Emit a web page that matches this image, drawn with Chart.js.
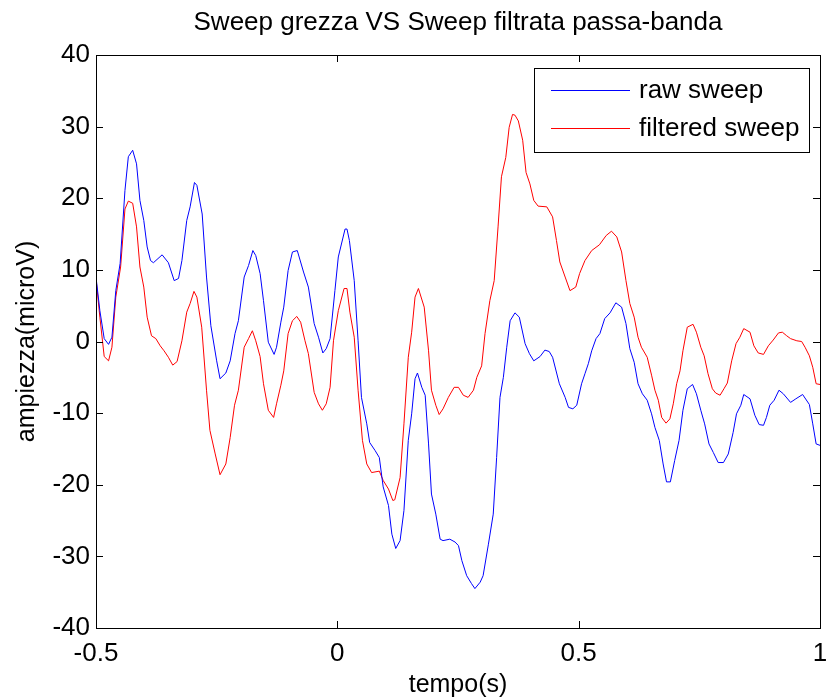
<!DOCTYPE html>
<html>
<head>
<meta charset="utf-8">
<script src="https://cdn.jsdelivr.net/npm/chart.js@4.4.1/dist/chart.umd.min.js"></script>
<style>
  html, body { margin: 0; padding: 0; background: #fff; }
  #wrap { width: 826px; height: 698px; }
</style>
</head>
<body>
<div id="wrap"><canvas id="sweep-chart"></canvas></div>
<script>
// raw sweep (blue)
var rawT = [-0.5,-0.492,-0.483,-0.474,-0.467,-0.459,-0.45,-0.44,-0.433,-0.424,-0.416,-0.409,-0.401,-0.394,-0.387,-0.381,-0.363,-0.35,-0.338,-0.329,-0.322,-0.312,-0.305,-0.296,-0.291,-0.28,-0.271,-0.262,-0.25,-0.243,-0.231,-0.222,-0.212,-0.205,-0.193,-0.184,-0.175,-0.169,-0.16,-0.153,-0.143,-0.131,-0.126,-0.117,-0.111,-0.102,-0.093,-0.083,-0.07,-0.06,-0.048,-0.039,-0.03,-0.023,-0.015,-0.005,0.002,0.016,0.02,0.025,0.035,0.043,0.05,0.061,0.067,0.078,0.087,0.095,0.106,0.113,0.121,0.13,0.138,0.147,0.154,0.161,0.166,0.175,0.182,0.189,0.195,0.204,0.213,0.219,0.233,0.244,0.251,0.258,0.268,0.278,0.285,0.296,0.302,0.313,0.323,0.33,0.337,0.344,0.351,0.358,0.368,0.377,0.389,0.398,0.407,0.42,0.43,0.439,0.446,0.46,0.472,0.479,0.488,0.496,0.506,0.513,0.52,0.527,0.536,0.544,0.554,0.565,0.577,0.589,0.598,0.606,0.615,0.623,0.632,0.642,0.651,0.658,0.667,0.675,0.682,0.69,0.699,0.708,0.716,0.725,0.736,0.744,0.753,0.761,0.77,0.779,0.789,0.8,0.81,0.82,0.827,0.836,0.842,0.855,0.865,0.874,0.883,0.889,0.896,0.905,0.915,0.924,0.939,0.95,0.964,0.978,0.985,0.992,1.0];
var rawV = [9.0,4.3,0.4,-0.4,0.6,7.1,10.9,21.1,25.8,26.7,24.8,19.7,16.9,13.2,11.3,11.0,12.1,11.0,8.5,8.8,11.3,16.9,18.8,22.2,21.8,17.8,9.0,2.2,-2.7,-5.2,-4.4,-2.7,1.1,2.9,9.0,10.6,12.7,12.0,9.5,5.7,-0.1,-1.8,-0.8,2.7,4.8,9.9,12.5,12.7,9.7,7.6,2.5,0.6,-1.6,-1.0,0.4,7.1,11.8,15.7,15.7,14.1,8.5,0.1,-7.8,-11.5,-14.1,-15.2,-16.2,-20.3,-22.9,-26.9,-28.9,-27.8,-23.6,-13.8,-10.1,-5.2,-4.4,-6.4,-7.5,-14.3,-21.3,-24.1,-27.6,-27.8,-27.6,-28.0,-28.5,-30.6,-32.7,-33.8,-34.5,-33.6,-32.7,-28.3,-24.1,-16.2,-7.8,-5.0,-0.8,2.9,4.0,3.4,-0.3,-1.7,-2.7,-2.1,-1.2,-1.4,-2.2,-5.9,-7.8,-9.2,-9.4,-8.9,-5.9,-4.5,-3.1,-1.3,0.4,1.1,3.2,4.0,5.4,4.8,2.5,-1.0,-2.9,-5.9,-7.3,-8.2,-10.1,-12.0,-13.8,-17.1,-19.6,-19.6,-16.6,-13.8,-9.6,-6.6,-6.0,-7.3,-9.6,-11.5,-14.3,-15.5,-16.9,-16.9,-15.7,-12.7,-10.1,-8.9,-7.4,-8.0,-10.3,-11.6,-11.7,-10.6,-8.9,-8.2,-6.8,-7.3,-8.5,-8.0,-7.4,-8.8,-11.5,-14.3,-14.5];

// filtered sweep (red)
var filtT = [-0.5,-0.492,-0.483,-0.474,-0.467,-0.459,-0.449,-0.44,-0.433,-0.424,-0.416,-0.409,-0.401,-0.394,-0.385,-0.376,-0.367,-0.359,-0.35,-0.341,-0.332,-0.322,-0.312,-0.305,-0.297,-0.291,-0.281,-0.271,-0.264,-0.253,-0.243,-0.231,-0.222,-0.213,-0.205,-0.193,-0.184,-0.176,-0.169,-0.16,-0.153,-0.143,-0.132,-0.126,-0.117,-0.111,-0.102,-0.093,-0.084,-0.076,-0.067,-0.06,-0.048,-0.039,-0.031,-0.023,-0.015,-0.008,0.002,0.014,0.02,0.026,0.035,0.043,0.052,0.061,0.071,0.087,0.095,0.106,0.115,0.119,0.13,0.138,0.147,0.154,0.161,0.168,0.18,0.189,0.195,0.204,0.211,0.219,0.23,0.242,0.251,0.261,0.271,0.282,0.289,0.299,0.306,0.316,0.325,0.333,0.34,0.349,0.356,0.363,0.368,0.375,0.384,0.391,0.399,0.407,0.416,0.434,0.446,0.454,0.461,0.472,0.482,0.494,0.502,0.513,0.527,0.543,0.557,0.568,0.579,0.589,0.598,0.606,0.615,0.623,0.63,0.642,0.651,0.658,0.665,0.672,0.681,0.689,0.696,0.703,0.71,0.716,0.725,0.737,0.744,0.753,0.76,0.768,0.777,0.784,0.793,0.801,0.808,0.817,0.826,0.834,0.842,0.855,0.863,0.872,0.883,0.893,0.903,0.914,0.922,0.931,0.939,0.952,0.962,0.969,0.978,0.985,0.992,1.0];
var filtV = [8.8,3.4,-2.1,-2.7,-0.8,6.2,10.4,18.5,19.6,19.3,16.0,10.4,7.6,3.4,0.8,0.4,-0.6,-1.3,-2.2,-3.3,-2.8,0.1,4.1,5.3,7.0,6.2,2.0,-6.8,-12.4,-15.7,-18.6,-17.1,-13.4,-8.9,-6.8,-0.8,0.4,1.5,0.1,-2.1,-5.9,-9.6,-10.6,-8.7,-6.1,-4.1,1.1,2.9,3.5,2.7,0.1,-1.7,-7.1,-8.7,-9.6,-8.7,-6.4,0.1,4.3,7.4,7.4,4.1,0.6,-6.8,-13.8,-17.1,-18.3,-18.1,-19.4,-20.6,-22.2,-22.1,-19.0,-11.5,-2.2,1.3,6.2,7.4,4.8,-1.3,-6.8,-8.9,-10.2,-9.4,-7.8,-6.4,-6.4,-7.5,-7.8,-6.8,-5.0,-3.4,1.1,5.7,8.5,16.0,23.0,25.7,29.9,31.7,31.6,30.8,28.1,23.6,22.0,19.7,18.9,18.8,17.4,14.1,11.1,9.0,7.1,7.6,9.5,11.3,12.7,13.5,14.8,15.4,14.6,12.5,8.5,5.3,3.4,0.6,-0.8,-2.2,-4.7,-6.8,-8.2,-10.6,-11.4,-10.8,-8.7,-5.9,-4.1,-1.3,2.0,2.4,1.3,-0.8,-2.0,-4.5,-6.6,-7.2,-7.5,-6.6,-5.8,-2.7,-0.3,0.6,1.8,1.3,-0.6,-1.6,-1.8,-0.6,0.2,1.2,1.3,0.8,0.4,0.1,0.0,-0.8,-2.0,-3.6,-5.9,-6.0];

var xTicks = [-0.5, 0, 0.5, 1];
var yTicks = [-40, -30, -20, -10, 0, 10, 20, 30, 40];

function pairs(t, v) {
  return t.map(function (x, i) { return { x: x, y: v[i] }; });
}

// matlab style frame, inward ticks, title and legend box
var matlabBox = {
  id: 'matlabBox',
  afterDraw: function (chart) {
    var ctx = chart.ctx, a = chart.chartArea;
    var xs = chart.scales.x, ys = chart.scales.y;
    ctx.save();
    ctx.strokeStyle = '#000';
    ctx.lineWidth = 1;
    ctx.strokeRect(Math.round(a.left) + 0.5, Math.round(a.top) + 0.5,
      Math.round(a.right - a.left), Math.round(a.bottom - a.top));
    ctx.beginPath();
    xTicks.forEach(function (v) {
      var px = Math.round(xs.getPixelForValue(v)) + 0.5;
      ctx.moveTo(px, a.bottom); ctx.lineTo(px, a.bottom - 7);
      ctx.moveTo(px, a.top); ctx.lineTo(px, a.top + 7);
    });
    yTicks.forEach(function (v) {
      var py = Math.round(ys.getPixelForValue(v)) + 0.5;
      ctx.moveTo(a.left, py); ctx.lineTo(a.left + 7, py);
      ctx.moveTo(a.right, py); ctx.lineTo(a.right - 7, py);
    });
    ctx.stroke();

    ctx.fillStyle = '#000';
    ctx.font = '26px "Liberation Sans", Arial, sans-serif';
    ctx.textAlign = 'center';
    ctx.textBaseline = 'middle';
    ctx.fillText('Sweep grezza VS Sweep filtrata passa-banda', (a.left + a.right) / 2, 23);

    // legend
    var bx = Math.round(a.right) - 286, by = Math.round(a.top) + 13, bw = 275, bh = 84;
    ctx.fillStyle = '#fff';
    ctx.fillRect(bx, by, bw, bh);
    ctx.strokeRect(bx + 0.5, by + 0.5, bw, bh);
    ctx.font = '26px "Liberation Sans", Arial, sans-serif';
    ctx.textAlign = 'left';
    chart.data.datasets.forEach(function (ds, i) {
      var ly = by + 22 + i * 38;
      ctx.strokeStyle = ds.borderColor;
      ctx.beginPath();
      ctx.moveTo(bx + 17, ly + 0.5); ctx.lineTo(bx + 96, ly + 0.5);
      ctx.stroke();
      ctx.fillStyle = '#000';
      ctx.fillText(ds.label, bx + 105, ly + 1);
    });
    ctx.restore();
  }
};

new Chart(document.getElementById("sweep-chart"), {
  type: 'line',
  data: {
    datasets: [{
        data: pairs(rawT, rawV),
        label: "raw sweep",
        borderColor: "#0000ff",
        borderWidth: 1,
        pointRadius: 0,
        fill: false
      }, {
        data: pairs(filtT, filtV),
        label: "filtered sweep",
        borderColor: "#ff0000",
        borderWidth: 1,
        pointRadius: 0,
        fill: false
      }
    ]
  },
  options: {
    responsive: true,
    maintainAspectRatio: false,
    animation: false,
    layout: { padding: { top: 55, right: 0, left: 0, bottom: 0 } },
    plugins: {
      legend: { display: false },
      tooltip: { enabled: false },
      title: { display: false }
    },
    scales: {
      x: {
        type: 'linear',
        min: -0.5,
        max: 1,
        afterFit: function (s) { s.height = 70; s.paddingRight = 6; s.paddingLeft = 0; },
        afterBuildTicks: function (s) { s.ticks = xTicks.map(function (v) { return { value: v }; }); },
        grid: { display: false, drawTicks: false },
        border: { display: false },
        ticks: {
          color: '#000',
          padding: 10,
          maxRotation: 0,
          callback: function (v) { return String(v); },
          font: { family: '"Liberation Sans", Arial, sans-serif', size: 26 }
        },
        title: {
          display: true,
          text: 'tempo(s)',
          color: '#000',
          padding: { top: 0, bottom: 0 },
          font: { family: '"Liberation Sans", Arial, sans-serif', size: 25, lineHeight: 1.05 }
        }
      },
      y: {
        min: -40,
        max: 40,
        afterFit: function (s) { s.width = 96; },
        afterBuildTicks: function (s) { s.ticks = yTicks.map(function (v) { return { value: v }; }); },
        grid: { display: false, drawTicks: false },
        border: { display: false },
        ticks: {
          color: '#000',
          padding: 6,
          font: { family: '"Liberation Sans", Arial, sans-serif', size: 26 }
        },
        title: {
          display: true,
          text: 'ampiezza(microV)',
          color: '#000',
          padding: { top: 12, bottom: 0 },
          font: { family: '"Liberation Sans", Arial, sans-serif', size: 25 }
        }
      }
    }
  },
  plugins: [matlabBox]
});
</script>
</body>
</html>
